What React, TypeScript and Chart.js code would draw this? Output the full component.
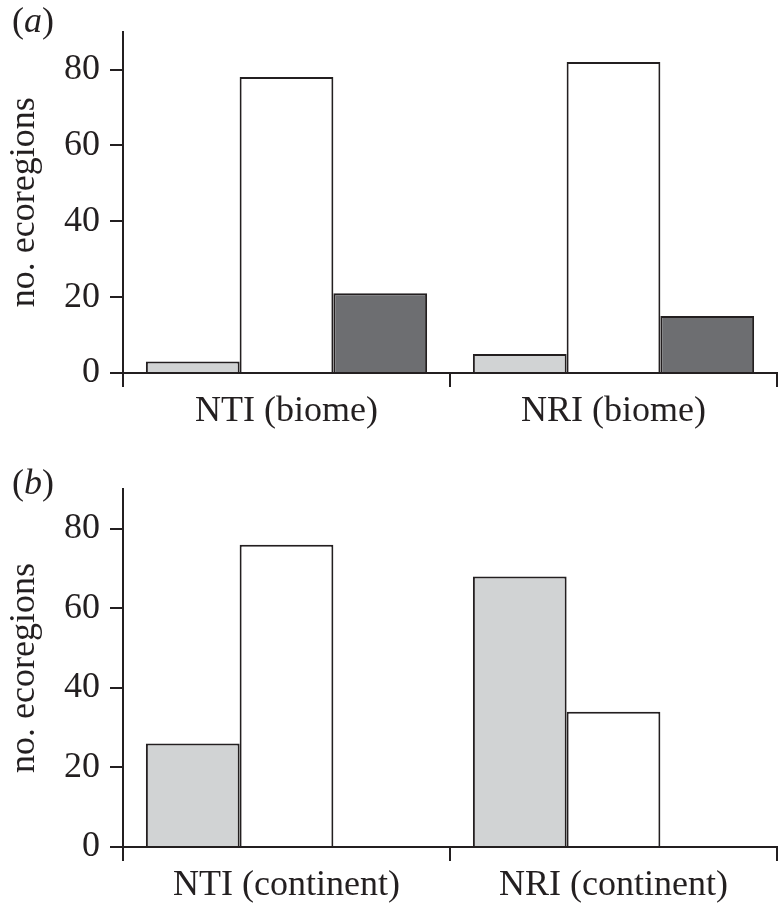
import React, { useEffect, useRef } from "react";
import { Chart, registerables } from "chart.js";

Chart.register(...registerables);

// ---- data ----
const categoriesA = ["NTI (biome)", "NRI (biome)"];
const categoriesB = ["NTI (continent)", "NRI (continent)"];
const lightA = [3, 5];
const whiteA = [78, 82];
const darkA = [21, 15];
const lightB = [26, 68];
const whiteB = [76, 34];
const darkB = [0, 0];
const yTicks = [0, 20, 40, 60, 80];
const yMax = 90;
const yTitle = "no. ecoregions";
const panelLetters = ["a", "b"];

// ---- style ----
const INK = "#231f20";
const LIGHT = "#d1d3d4";
const WHITE = "#ffffff";
const DARK = "#6d6e71";
const FONT = "'Liberation Serif', 'Times New Roman', serif";
const FS = 36;

const panelLabel = {
  id: "panelLabel",
  afterDraw(chart: any, _args: any, opts: any) {
    const ctx = chart.ctx;
    ctx.save();
    ctx.fillStyle = INK;
    ctx.textBaseline = "alphabetic";
    ctx.textAlign = "left";
    let x = opts.x;
    const parts: [string, boolean][] = [["(", false], [opts.letter, true], [")", false]];
    for (const [t, it] of parts) {
      ctx.font = `${it ? "italic " : ""}${FS}px ${FONT}`;
      ctx.fillText(t, x, opts.y);
      x += ctx.measureText(t).width;
    }
    ctx.restore();
  },
};

function makeConfig(
  labels: string[],
  light: number[],
  white: number[],
  dark: number[],
  letter: string,
  padTop: number,
  xHeight: number,
  labelY: number
): any {
  const ds = (data: number[], color: string) => ({
    data,
    backgroundColor: color,
    borderColor: INK,
    borderWidth: 2,
    categoryPercentage: 0.86,
    barPercentage: 1,
  });
  return {
    type: "bar",
    data: {
      labels,
      datasets: [ds(light, LIGHT), ds(white, WHITE), ds(dark, DARK)],
    },
    plugins: [panelLabel],
    options: {
      responsive: false,
      animation: false,
      layout: { padding: { top: padTop, right: 1, left: 0, bottom: 0 } },
      plugins: {
        legend: { display: false },
        tooltip: { enabled: false },
        panelLabel: { letter, x: 12, y: labelY },
      },
      scales: {
        x: {
          offset: true,
          grid: {
            offset: true,
            drawOnChartArea: false,
            drawTicks: true,
            tickLength: 14,
            color: INK,
            lineWidth: 2,
          },
          border: { display: true, color: INK, width: 2 },
          ticks: {
            color: INK,
            font: { family: FONT, size: FS },
            padding: 3,
            maxRotation: 0,
            autoSkip: false,
          },
          afterFit: (s: any) => {
            s.height = xHeight;
          },
        },
        y: {
          min: 0,
          max: yMax,
          afterBuildTicks: (s: any) => {
            s.ticks = yTicks.map((v) => ({ value: v }));
          },
          grid: {
            drawOnChartArea: false,
            tickLength: 13,
            color: INK,
            lineWidth: 2,
          },
          border: { display: true, color: INK, width: 2 },
          ticks: {
            color: INK,
            font: { family: FONT, size: FS },
            padding: 10,
          },
          title: {
            display: true,
            text: yTitle,
            color: INK,
            font: { family: FONT, size: FS },
            padding: { top: 3, bottom: 0 },
          },
          afterFit: (s: any) => {
            s.width = 123;
          },
        },
      },
    },
  };
}

function Panel({ cfg }: { cfg: () => any }) {
  const ref = useRef<HTMLCanvasElement | null>(null);
  useEffect(() => {
    const chart = new Chart(ref.current as HTMLCanvasElement, cfg());
    return () => chart.destroy();
  }, []);
  return <canvas ref={ref} width={778} height={456} style={{ display: "block" }} />;
}

export default function App() {
  useEffect(() => {
    document.body.style.margin = "0";
    document.body.style.background = "#ffffff";
  }, []);
  return (
    <div style={{ width: 778, height: 912, background: "#fff" }}>
      <Panel cfg={() => makeConfig(categoriesA, lightA, whiteA, darkA, panelLetters[0], 16, 83, 32)} />
      <Panel cfg={() => makeConfig(categoriesB, lightB, whiteB, darkB, panelLetters[1], 33, 65, 38)} />
    </div>
  );
}
